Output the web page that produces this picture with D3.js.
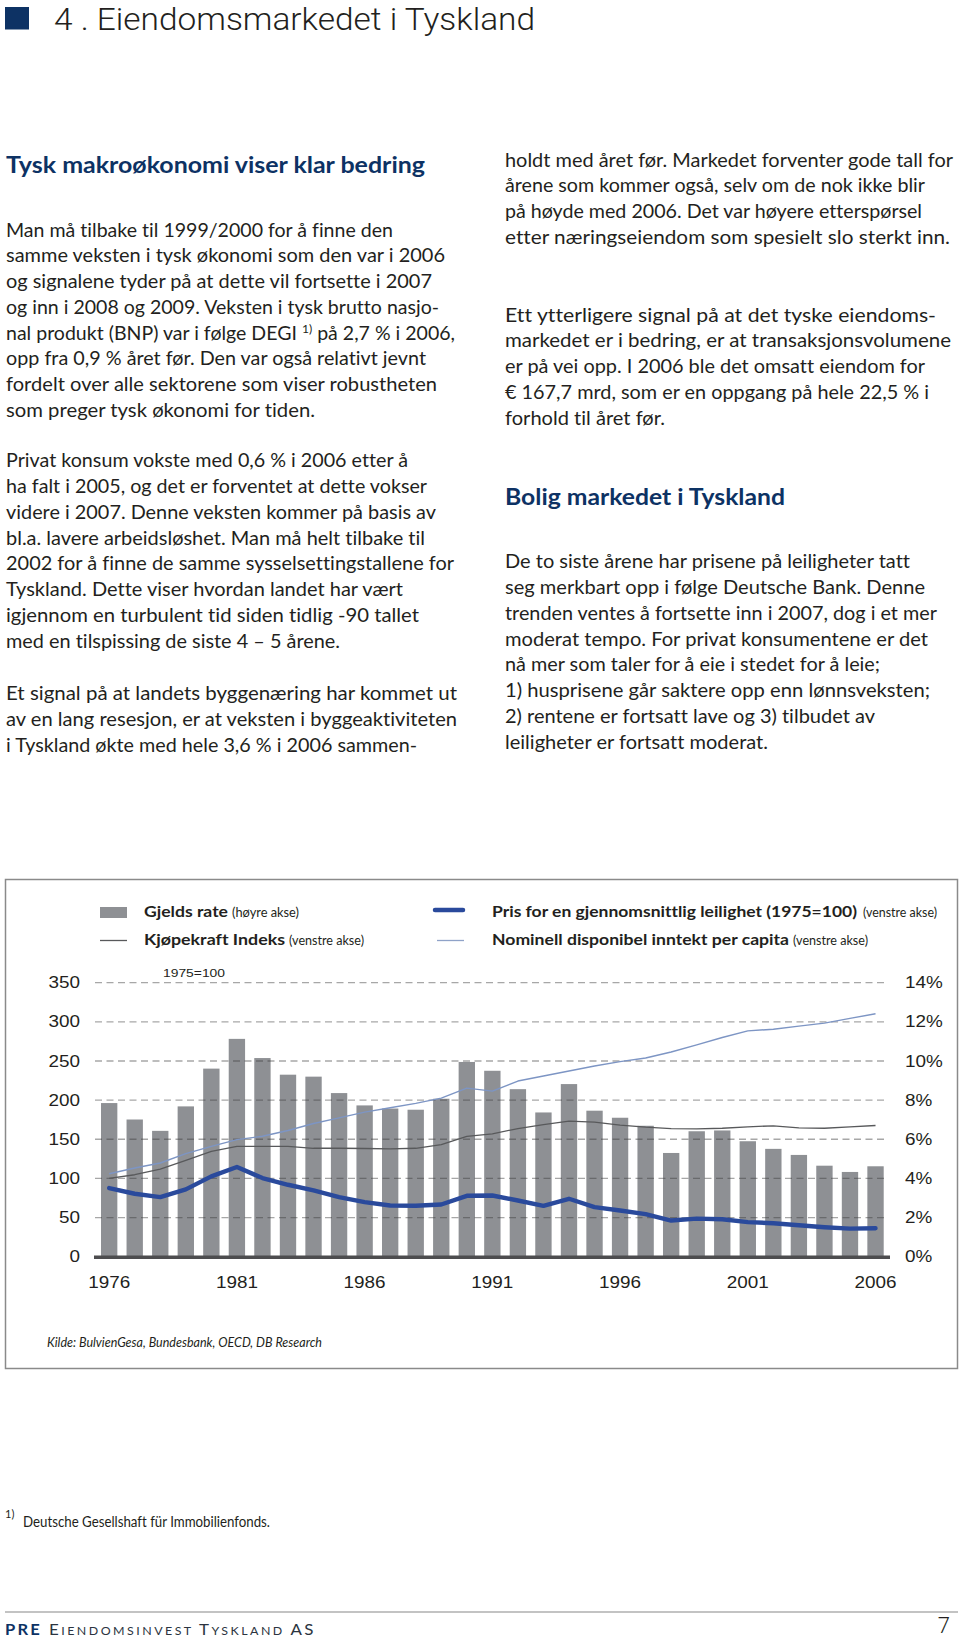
<!DOCTYPE html>
<html><head><meta charset="utf-8">
<script src="https://cdn.jsdelivr.net/npm/d3@7"></script>
<style>body{margin:0;background:#fff} text{font-variant-ligatures:none;font-feature-settings:"liga" 0,"clig" 0;}</style>
</head><body><div id="page"></div>
<script>
// ---------------- DATA ----------------
const years = [1976,1977,1978,1979,1980,1981,1982,1983,1984,1985,1986,1987,1988,1989,1990,1991,1992,1993,1994,1995,1996,1997,1998,1999,2000,2001,2002,2003,2004,2005,2006];
const tickYears = [1976,1981,1986,1991,1996,2001,2006];
// Gjelds rate (høyre akse, %)
const gjeldsRate = [7.85,7.01,6.43,7.68,9.61,11.13,10.15,9.30,9.20,8.36,7.73,7.57,7.51,8.07,9.95,9.50,8.56,7.37,8.82,7.46,7.10,6.69,5.30,6.41,6.45,5.90,5.51,5.20,4.65,4.33,4.62];
// Pris for en gjennomsnittlig leilighet (1975=100)
const leilighetPris = [87.7,80.4,76.1,86,102.6,114.6,100.5,91.9,84.6,76.1,69.7,65.4,65.0,66.7,77.8,78.2,71.8,65.0,74.0,63.3,59.0,54.3,46.2,48.7,47.9,44.1,42.8,40.2,37.7,35.9,36.4];
// Kjøpekraft Indeks
const kjopekraft = [100,104.7,112,123,134.6,141,141,141,138.5,138.5,138.2,137.7,138.5,143.2,153.8,157,163.7,168.8,173.1,171.8,168,165.4,163.7,163.3,164.1,165.9,167.2,164.6,164.1,165.9,167.6];
// Nominell disponibel inntekt per capita
const inntekt = [106,113.3,119.7,131.7,141,149.6,153.8,161.2,170.1,177.4,184.6,190.3,195.8,202.6,215.4,211.5,224.4,230.8,237.2,243.6,249.2,253.8,261.5,270.5,280,288.5,290.6,294.5,298.3,304.4,310.3];
const leftTicks = [0,50,100,150,200,250,300,350];
const rightTicks = [0,2,4,6,8,10,12,14];

// ---------------- TEXT CONTENT ----------------
const pageTitle = "4 . Eiendomsmarkedet i Tyskland";
const heading1 = "Tysk makroøkonomi viser klar bedring";
const heading2 = "Bolig markedet i Tyskland";
const leftPara1 = [
  "Man må tilbake til 1999/2000 for å finne den",
  "samme veksten i tysk økonomi som den var i 2006",
  "og signalene tyder på at dette vil fortsette i 2007",
  "og inn i 2008 og 2009. Veksten i tysk brutto nasjo-",
  ["nal produkt (BNP) var i følge DEGI ", "^1)", " på 2,7 % i 2006,"],
  "opp fra 0,9 % året før. Den var også relativt jevnt",
  "fordelt over alle sektorene som viser robustheten",
  "som preger tysk økonomi for tiden."
];
const leftPara1W = [387,439,426,433,449,420,431,309];
const leftPara2 = [
  "Privat konsum vokste med 0,6 % i 2006 etter å",
  "ha falt i 2005, og det er forventet at dette vokser",
  "videre i 2007. Denne veksten kommer på basis av",
  "bl.a. lavere arbeidsløshet. Man må helt tilbake til",
  "2002 for å finne de samme sysselsettingstallene for",
  "Tyskland. Dette viser hvordan landet har vært",
  "igjennom en turbulent tid siden tidlig -90 tallet",
  "med en tilspissing de siste 4 – 5 årene."
];
const leftPara2W = [402,421,430,419,448,397,413,334];
const leftPara3 = [
  "Et signal på at landets byggenæring har kommet ut",
  "av en lang resesjon, er at veksten i byggeaktiviteten",
  "i Tyskland økte med hele 3,6 % i 2006 sammen-"
];
const leftPara3W = [451,451,411];
const rightPara1 = [
  "holdt med året før. Markedet forventer gode tall for",
  "årene som kommer også, selv om de nok ikke blir",
  "på høyde med 2006. Det var høyere etterspørsel",
  "etter næringseiendom som spesielt slo sterkt inn."
];
const rightPara1W = [448,420,417,445];
const rightPara2 = [
  "Ett ytterligere signal på at det tyske eiendoms-",
  "markedet er i bedring, er at transaksjonsvolumene",
  "er på vei opp. I 2006 ble det omsatt eiendom for",
  "€ 167,7 mrd, som er en oppgang på hele 22,5 % i",
  "forhold til året før."
];
const rightPara2W = [431,446,420,424,160];
const rightPara3 = [
  "De to siste årene har prisene på leiligheter tatt",
  "seg merkbart opp i følge Deutsche Bank. Denne",
  "trenden ventes å fortsette inn i 2007, dog i et mer",
  "moderat tempo. For privat konsumentene er det",
  "nå mer som taler for å eie i stedet for å leie;",
  "1) husprisene går saktere opp enn lønnsveksten;",
  "2) rentene er fortsatt lave og 3) tilbudet av",
  "leiligheter er fortsatt moderat."
];
const rightPara3W = [405,420,432,423,375,425,370,263];

// ---------------- PAGE ----------------
const svg = d3.select('#page').append('svg').attr('width',960).attr('height',1640)
  .style('display','block');
svg.append('rect').attr('width',960).attr('height',1640).attr('fill','#fff');

const BODY = "Lato, 'Open Sans', sans-serif";
const NAVY = "#0d3264";

function addText(parent, segs, x, y, o) {
  o = o || {};
  const t = parent.append('text').attr('x', x).attr('y', y)
    .attr('font-family', o.family || BODY)
    .attr('font-size', o.size || 19)
    .attr('font-weight', o.weight || 400)
    .attr('font-style', o.style || 'normal')
    .attr('fill', o.fill || '#231f20');
  if (o.anchor) t.attr('text-anchor', o.anchor);
  if (o.spacing) t.attr('letter-spacing', o.spacing);
  if (typeof segs === 'string') segs = [segs];
  let sup = false;
  segs.forEach(s => {
    if (s.startsWith('^')) {
      t.append('tspan').attr('dy', -7).attr('font-size', (o.size||19)*0.62).text(s.slice(1));
      sup = true;
    } else {
      const ts = t.append('tspan').text(s);
      if (sup) { ts.attr('dy', 7); sup = false; }
    }
  });
  if (o.width) t.attr('textLength', o.width).attr('lengthAdjust', 'spacingAndGlyphs');
  return t;
}

function para(lines, widths, x, y0, step) {
  lines.forEach((l, i) => addText(svg, l, x, y0 + i*step, {width: widths[i]}));
}

// Title
svg.append('rect').attr('x',5).attr('y',7).attr('width',24).attr('height',22.5).attr('fill',NAVY);
addText(svg, pageTitle, 54, 29.5, {family:"Roboto, sans-serif", weight:300, size:31, width:481, fill:'#231f20'});

// Headings
addText(svg, heading1, 6, 173, {size:23, weight:700, fill:NAVY, width:419});
addText(svg, heading2, 505, 505, {size:23, weight:700, fill:NAVY, width:280});

// Paragraphs
const STEP = 25.75;
para(leftPara1, leftPara1W, 6, 236.7, STEP);
para(leftPara2, leftPara2W, 6, 467.3, STEP);
para(leftPara3, leftPara3W, 6, 700, STEP);
para(rightPara1, rightPara1W, 505, 166.7, STEP);
para(rightPara2, rightPara2W, 505, 321.7, STEP);
para(rightPara3, rightPara3W, 505, 568.3, STEP);

// ---------------- CHART ----------------
const chart = svg.append('g');
chart.append('rect').attr('x',5.5).attr('y',879.5).attr('width',952).attr('height',489)
  .attr('fill','none').attr('stroke','#8a8a8a').attr('stroke-width',1.5);

const x = d3.scaleBand().domain(years).range([96.4, 888.3]).paddingInner(0.36).paddingOuter(0.18);
const yL = d3.scaleLinear().domain([0,350]).range([1256.7, 982.7]);
const yR = d3.scaleLinear().domain([0,14]).range([1256.7, 982.7]);
const cx = d => x(d) + x.bandwidth()/2;

const BAR = '#8e9094';
chart.append('g').selectAll('rect').data(years).join('rect')
  .attr('x', d => x(d)).attr('width', x.bandwidth())
  .attr('y', (d,i) => yR(gjeldsRate[i]))
  .attr('height', (d,i) => yR(0) - yR(gjeldsRate[i]))
  .attr('fill', BAR);

// gridlines
chart.append('g').selectAll('line').data(leftTicks.filter(t => t > 0)).join('line')
  .attr('x1', 95).attr('x2', 888)
  .attr('y1', d => yL(d)).attr('y2', d => yL(d))
  .attr('stroke', 'rgba(60,60,60,0.45)').attr('stroke-width', 1.3)
  .attr('stroke-dasharray', '7,4.5');

// zero axis line
chart.append('line').attr('x1',94).attr('x2',890).attr('y1',yL(0)+0.5).attr('y2',yL(0)+0.5)
  .attr('stroke','#4d4d4f').attr('stroke-width',3.4);

// lines
const lineGen = arr => d3.line().x((d,i) => cx(years[i])).y(d => yL(d))(arr);
chart.append('path').attr('d', lineGen(kjopekraft)).attr('fill','none')
  .attr('stroke','#58595b').attr('stroke-width',1.3).attr('stroke-linejoin','round');
chart.append('path').attr('d', lineGen(inntekt)).attr('fill','none')
  .attr('stroke','#7d95c4').attr('stroke-width',1.4).attr('stroke-linejoin','round');
chart.append('path').attr('d', lineGen(leilighetPris)).attr('fill','none')
  .attr('stroke','#2a4a9c').attr('stroke-width',4.4).attr('stroke-linejoin','round').attr('stroke-linecap','round');

// axes
const AX = "'Liberation Sans', Arial, sans-serif";
function styleAxis(g) {
  g.select('.domain').remove();
  g.selectAll('text').attr('font-family', AX).attr('font-size', 16).attr('fill', '#231f20')
    .each(function(){ const w = this.getComputedTextLength(); d3.select(this).attr('textLength', w*1.18).attr('lengthAdjust','spacingAndGlyphs'); });
}
chart.append('g').attr('transform','translate(95,0)')
  .call(d3.axisLeft(yL).tickValues(leftTicks).tickSize(0).tickPadding(15))
  .call(styleAxis);
chart.append('g').attr('transform','translate(888,0)')
  .call(d3.axisRight(yR).tickValues(rightTicks).tickFormat(d => d + '%').tickSize(0).tickPadding(17))
  .call(styleAxis);
chart.append('g').attr('transform', `translate(0,${yL(0)})`)
  .call(d3.axisBottom(x).tickValues(tickYears).tickSize(0).tickPadding(20))
  .call(styleAxis);

addText(chart, "1975=100", 163, 976.7, {family:AX, size:11.5, width:62, fill:'#231f20'});

// legend
chart.append('rect').attr('x',100).attr('y',907).attr('width',27).attr('height',11).attr('fill',BAR);
addText(chart, "Gjelds rate", 144, 917, {size:16, weight:700, width:84});
addText(chart, "(høyre akse)", 232, 917, {size:12.5, width:67});
chart.append('line').attr('x1',100).attr('x2',127).attr('y1',940.5).attr('y2',940.5).attr('stroke','#58595b').attr('stroke-width',1.3);
addText(chart, "Kjøpekraft Indeks", 144, 945, {size:16, weight:700, width:141});
addText(chart, "(venstre akse)", 289, 945, {size:12.5, width:75});
chart.append('line').attr('x1',435).attr('x2',463).attr('y1',910).attr('y2',910).attr('stroke','#2a4a9c').attr('stroke-width',4.5).attr('stroke-linecap','round');
addText(chart, "Pris for en gjennomsnittlig leilighet (1975=100)", 492, 917, {size:16, weight:700, width:365});
addText(chart, "(venstre akse)", 863, 917, {size:12.5, width:74});
chart.append('line').attr('x1',437).attr('x2',464).attr('y1',940.5).attr('y2',940.5).attr('stroke','#8fa2c8').attr('stroke-width',1.3);
addText(chart, "Nominell disponibel inntekt per capita", 492, 945, {size:16, weight:700, width:297});
addText(chart, "(venstre akse)", 793, 945, {size:12.5, width:75});

addText(chart, "Kilde: BulvienGesa, Bundesbank, OECD, DB Research", 47, 1347, {size:14, style:'italic', width:275});

// footnote
addText(svg, "1)", 5, 1518, {size:11});
addText(svg, "Deutsche Gesellshaft für Immobilienfonds.", 23, 1527, {size:15.5, width:247});

// footer
svg.append('line').attr('x1',5).attr('x2',958).attr('y1',1612).attr('y2',1612).attr('stroke','#c3c3c3').attr('stroke-width',2.2);
addText(svg, "PRE", 5, 1635, {size:15, weight:700, fill:NAVY, width:37, spacing:2});
const ft = svg.append('text').attr('x',49).attr('y',1635).attr('font-family',BODY).attr('fill','#2b3440').attr('letter-spacing',2.2);
[["E",15],["IENDOMSINVEST ",11],["T",15],["YSKLAND ",11],["AS",15]].forEach(s => ft.append('tspan').attr('font-size',s[1]).text(s[0]));
ft.attr('textLength',267).attr('lengthAdjust','spacingAndGlyphs');
addText(svg, "7", 950, 1633, {family:"Roboto, sans-serif", weight:300, size:22, anchor:'end'});
</script>
</body></html>
